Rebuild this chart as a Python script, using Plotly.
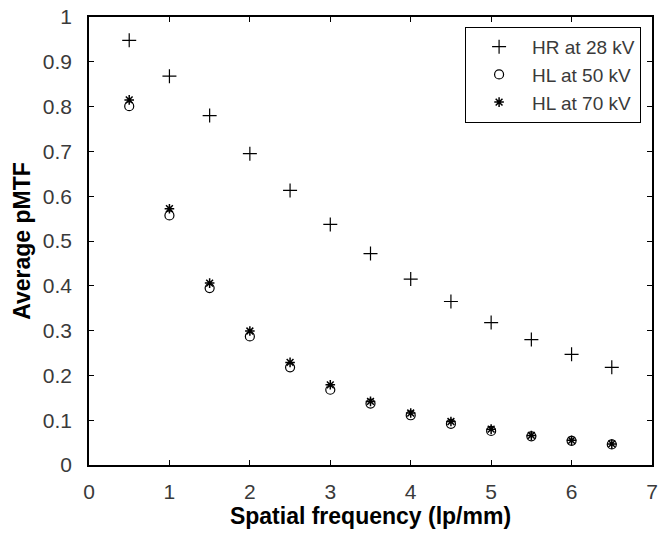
import plotly.graph_objects as go

freq = [0.5, 1, 1.5, 2, 2.5, 3, 3.5, 4, 4.5, 5, 5.5, 6, 6.5]
hr28 = [0.948, 0.868, 0.780, 0.695, 0.613, 0.537, 0.472, 0.415, 0.365, 0.318, 0.280, 0.247, 0.218]
hl50 = [0.801, 0.557, 0.395, 0.287, 0.218, 0.168, 0.137, 0.111, 0.092, 0.076, 0.064, 0.054, 0.046]
hl70 = [0.815, 0.572, 0.406, 0.299, 0.229, 0.179, 0.142, 0.116, 0.097, 0.080, 0.066, 0.055, 0.047]

x_ticks = [0, 1, 2, 3, 4, 5, 6, 7]
y_ticks = [0, 0.1, 0.2, 0.3, 0.4, 0.5, 0.6, 0.7, 0.8, 0.9, 1]
y_ticktext = ["0", "0.1", "0.2", "0.3", "0.4", "0.5", "0.6", "0.7", "0.8", "0.9", "1"]

FONT = "Liberation Sans, Arial"

fig = go.Figure()
fig.add_trace(go.Scatter(x=freq, y=hr28, mode="markers", name="HR at 28 kV",
                         marker=dict(symbol="cross-thin", size=10, color="black",
                                     line=dict(color="black", width=1.2))))
fig.add_trace(go.Scatter(x=freq, y=hl50, mode="markers", name="HL at 50 kV",
                         marker=dict(symbol="circle-open", size=9, color="black",
                                     line=dict(color="black", width=1.2))))
fig.add_trace(go.Scatter(x=freq, y=hl70, mode="markers", name="HL at 70 kV",
                         marker=dict(symbol="asterisk-open", size=8, color="black",
                                     line=dict(color="black", width=1.5))))

axis_common = dict(showgrid=False, zeroline=False, showline=True, linecolor="black",
                   linewidth=1.5, mirror="ticks", ticks="inside", ticklen=5,
                   tickwidth=1.2, tickcolor="black",
                   tickfont=dict(family=FONT, size=21, color="#3a3a3a"))

fig.update_layout(
    width=663, height=536,
    margin=dict(l=89, r=5, t=17, b=71),
    paper_bgcolor="white", plot_bgcolor="white",
    xaxis=dict(range=[0, 7], tickvals=x_ticks, ticklabelstandoff=7, **axis_common,
               title=dict(text="<b>Spatial frequency (lp/mm)</b>",
                          font=dict(family=FONT, size=23, color="black"),
                          standoff=4)),
    yaxis=dict(range=[0, 1], tickvals=y_ticks, ticktext=y_ticktext, ticklabelstandoff=11,
               **axis_common,
               title=dict(text="<b>Average pMTF</b>",
                          font=dict(family=FONT, size=23, color="black"),
                          standoff=6)),
    legend=dict(x=0.668, y=0.978, xanchor="left", yanchor="top",
                bordercolor="black", borderwidth=1, bgcolor="white",
                font=dict(family=FONT, size=19, color="#3a3a3a"),
                tracegroupgap=0, itemwidth=56),
    showlegend=True,
)

fig.write_html("out.html")
